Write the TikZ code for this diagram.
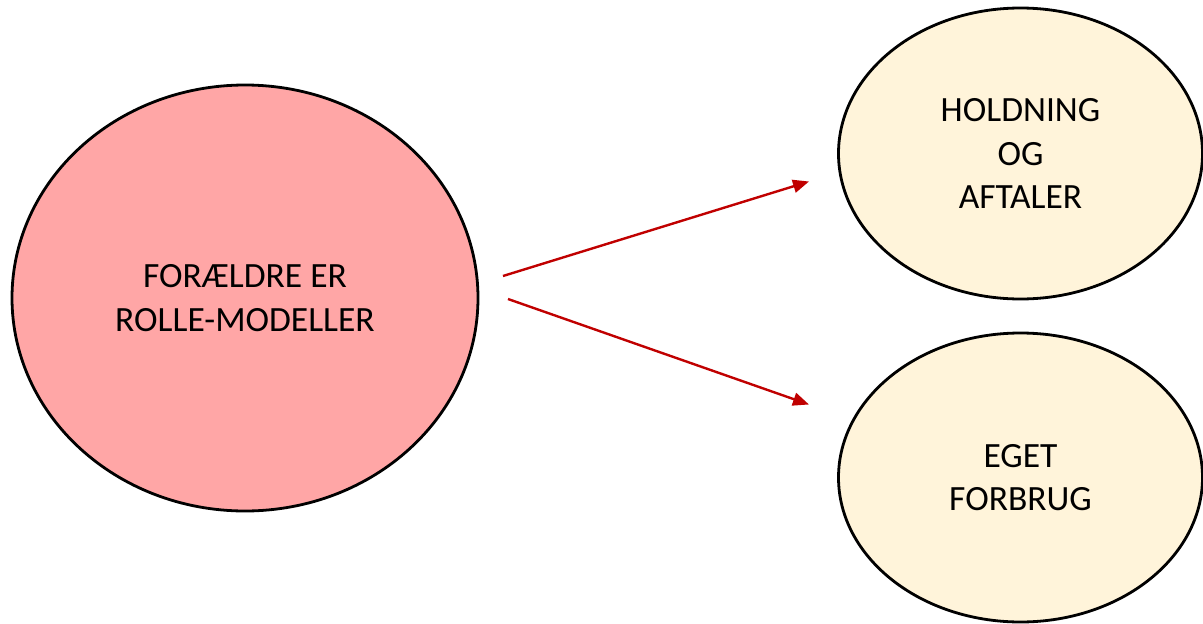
\documentclass[tikz,border=0pt]{standalone}
\usepackage{fontspec}
\setmainfont{Carlito}
\usetikzlibrary{shapes.geometric,arrows.meta}
\definecolor{pinkfill}{HTML}{FFA6A6}
\definecolor{creamfill}{HTML}{FFF4DA}
\definecolor{arrowred}{HTML}{C00000}
\tikzset{
  blob/.style={ellipse, draw=black, line width=2.8pt, inner sep=0pt, align=center,
    font=\fontsize{35.5}{43.5}\selectfont},
  conn/.style={draw=arrowred, line width=2.4pt, -{Triangle[length=16pt,width=13pt]}}
}
\begin{document}
\begin{tikzpicture}[x=1pt,y=-1pt]
\useasboundingbox (0,0) rectangle (1203,624);
\node[blob, fill=pinkfill, minimum width=466pt, minimum height=426pt] (big) at (245,298) {FORÆLDRE ER\\ROLLE-MODELLER};
\node[blob, fill=creamfill, minimum width=364pt, minimum height=291pt] (top) at (1020.5,153.5) {HOLDNING\\OG\\AFTALER};
\node[blob, fill=creamfill, minimum width=364pt, minimum height=289pt] (bot) at (1020.5,477.5) {EGET\\FORBRUG};
\coordinate (s1) at (503,276);
\coordinate (e1) at (809,181.5);
\coordinate (s2) at (508,299);
\coordinate (e2) at (809,404.5);
\draw[conn] (s1) -- (e1);
\draw[conn] (s2) -- (e2);
\end{tikzpicture}
\end{document}
